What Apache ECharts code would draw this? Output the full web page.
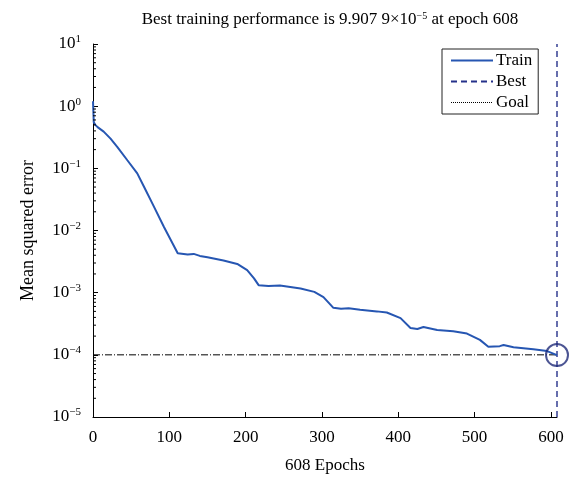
<!DOCTYPE html>
<html><head><meta charset="utf-8">
<script src="https://cdn.jsdelivr.net/npm/echarts@6/dist/echarts.min.js"></script>
<style>html,body{margin:0;padding:0;background:#fff}#c{width:574px;height:484px}</style>
</head><body><div id="c"></div>
<script>
// Training curve (epoch, mean squared error)
const trainEpochs = [0, 1, 3, 6, 14, 23, 32, 45, 58, 67, 80, 93, 111, 124, 132, 140, 150, 171, 189, 202, 211, 217, 230, 245, 272, 290, 302, 315, 325, 335, 350, 372, 385, 403, 416, 425, 433, 451, 472, 490, 507, 518, 533, 538, 551, 577, 595, 608];
const trainMSE = [1.2, 0.55, 0.5, 0.46, 0.39, 0.30, 0.22, 0.135, 0.083, 0.05, 0.024, 0.0114, 0.0043, 0.0041, 0.0042, 0.0039, 0.0037, 0.0033, 0.0029, 0.0023, 0.0017, 0.00132, 0.00128, 0.0013, 0.00117, 0.00103, 0.00085, 0.00057, 0.00055, 0.00056, 0.00053, 0.0005, 0.00048, 0.00039, 0.00027, 0.00026, 0.00028, 0.00025, 0.00024, 0.00022, 0.000174, 0.000135, 0.000138, 0.000144, 0.000132, 0.000123, 0.000115, 0.000099079];
const bestEpoch = 608;
const bestValue = 9.9079e-5;
const goalValue = 1e-4;
const yRange = [1e-5, 10];
const xRange = [0, 608];
const minorTickValues = [
  2e-5,3e-5,4e-5,5e-5,6e-5,7e-5,8e-5,9e-5,
  2e-4,3e-4,4e-4,5e-4,6e-4,7e-4,8e-4,9e-4,
  2e-3,3e-3,4e-3,5e-3,6e-3,7e-3,8e-3,9e-3,
  2e-2,3e-2,4e-2,5e-2,6e-2,7e-2,8e-2,9e-2,
  0.2,0.3,0.4,0.5,0.6,0.7,0.8,0.9,
  2,3,4,5,6,7,8,9
];
const supMap = {'-5':'−5','-4':'−4','-3':'−3','-2':'−2','-1':'−1','0':'0','1':'1'};

const trainData = trainEpochs.map((e, i) => [e, trainMSE[i]]);
const font = 'Liberation Serif';
const trainColor = '#2656b2';
const bestColor = '#25308a';

const chart = echarts.init(document.getElementById('c'), null, {renderer: 'canvas'});
chart.setOption({
  animation: false,
  backgroundColor: '#fff',
  title: {
    text: 'Best training performance is 9.907 9×10{s|−5} at epoch 608',
    left: 325, textAlign: 'center', top: 6,
    textStyle: {
      fontFamily: font, fontSize: 17, fontWeight: 'normal', color: '#000',
      rich: {s: {fontFamily: font, fontSize: 10, verticalAlign: 'top', padding: [0,0,8,0], color: '#000'}}
    }
  },
  legend: {
    left: 442, top: 49, orient: 'vertical', align: 'left',
    data: [
      {name: 'Train'},
      {name: 'Best'},
      {name: 'Goal', lineStyle: {type: [1, 1], width: 1, color: '#000'}}
    ],
    itemWidth: 42, itemHeight: 14, itemGap: 4,
    itemStyle: {opacity: 0},
    padding: [3, 6, 3, 8],
    borderColor: '#222', borderWidth: 1, backgroundColor: '#fff',
    textStyle: {fontFamily: font, fontSize: 17, color: '#000', padding: [0,0,0,-2]}
  },
  grid: {left: 93, right: 17, top: 44, bottom: 67, containLabel: false},
  xAxis: {
    type: 'value', min: xRange[0], max: xRange[1], interval: 100,
    name: '608 Epochs', nameLocation: 'middle', nameGap: 40,
    nameTextStyle: {fontFamily: font, fontSize: 17, color: '#000'},
    axisLine: {show: true, lineStyle: {color: '#000', width: 1}},
    axisTick: {show: true, inside: true, length: 5, lineStyle: {color: '#000'}},
    axisLabel: {fontFamily: font, fontSize: 17, color: '#000', margin: 12, showMaxLabel: false},
    splitLine: {show: false}
  },
  yAxis: {
    type: 'log', logBase: 10, min: yRange[0], max: yRange[1], interval: 1,
    name: 'Mean squared error', nameLocation: 'middle', nameGap: 56, nameRotate: 90,
    nameTextStyle: {fontFamily: font, fontSize: 18, color: '#000'},
    axisLine: {show: true, lineStyle: {color: '#000', width: 1}},
    axisTick: {show: true, inside: true, length: 5, lineStyle: {color: '#000'}},
    axisLabel: {
      fontFamily: font, fontSize: 17, color: '#000', margin: 12,
      formatter: function (v) {
        const e = Math.round(Math.log10(v));
        return '{b|10}{s|' + (supMap[String(e)] || String(e)) + '}';
      },
      rich: {
        b: {fontFamily: font, fontSize: 17, color: '#000'},
        s: {fontFamily: font, fontSize: 11, color: '#000', verticalAlign: 'top', padding: [0,0,9,0]}
      }
    },
    splitLine: {show: false}
  },
  series: [
    {
      name: 'Train', type: 'line', data: trainData, showSymbol: false, symbol: 'none',
      lineStyle: {color: trainColor, width: 2}, itemStyle: {color: trainColor}, z: 3
    },
    {
      name: 'Best', type: 'line', data: [[bestEpoch, yRange[0]], [bestEpoch, yRange[1]]],
      showSymbol: false, symbol: 'none',
      lineStyle: {color: bestColor, width: 1.4, type: [6, 4]}, itemStyle: {color: bestColor}, z: 2
    },
    {
      name: 'Goal', type: 'line', data: [[xRange[0], goalValue], [xRange[1], goalValue]],
      showSymbol: false, symbol: 'none',
      lineStyle: {color: '#000', width: 1, type: [7, 2, 1, 2]}, itemStyle: {color: '#000'}, z: 2
    },
    {
      name: 'BestPoint', type: 'scatter', data: [[bestEpoch, bestValue]],
      symbol: 'circle', symbolSize: 22, silent: true,
      itemStyle: {color: 'rgba(0,0,0,0)', borderColor: '#1f2a78', borderWidth: 2}, z: 4
    },
    {
      name: 'minorTicks', type: 'custom', silent: true,
      data: minorTickValues.map(v => [xRange[0], v]),
      renderItem: function (params, api) {
        const p = api.coord([api.value(0), api.value(1)]);
        return {type: 'line', shape: {x1: p[0], y1: p[1], x2: p[0] + 3, y2: p[1]},
          style: {stroke: '#000', lineWidth: 1}};
      },
      z: 5
    }
  ]
});
</script></body></html>
